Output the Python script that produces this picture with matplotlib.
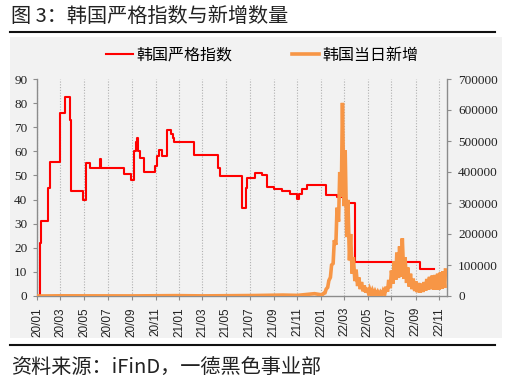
import matplotlib
matplotlib.use('Agg')
import matplotlib.pyplot as plt
import matplotlib.dates as mdates
import matplotlib.ticker as mticker
import pandas as pd
from matplotlib.patches import Rectangle
from matplotlib.lines import Line2D

plt.rcParams['font.family'] = ['Noto Sans CJK SC', 'DejaVu Sans']

title = "图 3：韩国严格指数与新增数量"
source = "资料来源：iFinD，一德黑色事业部"
series_names = ["韩国严格指数", "韩国当日新增"]

# Stringency index (step changes): date -> value
stringency_dates = [
    "2020-01-01", "2020-01-08", "2020-01-10", "2020-01-12", "2020-01-29", "2020-02-03",
    "2020-02-28", "2020-03-14", "2020-03-27", "2020-03-29", "2020-04-28", "2020-05-07",
    "2020-05-17", "2020-06-10", "2020-06-13", "2020-08-11", "2020-08-30", "2020-09-06",
    "2020-09-11", "2020-09-14", "2020-09-18", "2020-09-21", "2020-10-03", "2020-10-31",
    "2020-11-04", "2020-11-10", "2020-11-17", "2020-11-30", "2020-12-11", "2020-12-15",
    "2020-12-19", "2021-02-09", "2021-04-12", "2021-04-16", "2021-06-11", "2021-06-21",
    "2021-06-24", "2021-07-16", "2021-08-01", "2021-08-14", "2021-08-16", "2021-09-02",
    "2021-09-22", "2021-10-13", "2021-10-30", "2021-11-04", "2021-11-12", "2021-11-27",
    "2022-01-14", "2022-02-10", "2022-03-05", "2022-03-29", "2022-05-19", "2022-09-12",
    "2022-10-18",
]
stringency_values = [
    0, 11, 22, 31.2, 45, 55.6,
    76.0, 82.4, 73.0, 43.5, 39.8, 55.1,
    53.2, 57.0, 53.2, 50.5, 48.2, 60.0,
    63.9, 65.7, 60.0, 57.4, 51.4, 54.0,
    57.9, 60.6, 57.9, 69.0, 67.3, 65.7,
    64.0, 58.3, 53.0, 49.9, 36.5, 45.0,
    49.0, 51.0, 50.1, 48.5, 45.3, 44.5,
    43.5, 42.5, 40.4, 42.5, 44.3, 46.0,
    41.8, 41.0, 38.4, 14.2, 13.9, 11.1,
    11.1,
]

# Daily new cases: early (small) readings
cases_early_dates = ["2020-01-01", "2020-03-01", "2020-09-01", "2020-12-25", "2021-03-01",
                     "2021-07-15", "2021-09-25", "2021-11-01", "2021-12-15", "2022-01-01"]
cases_early_values = [0, 600, 300, 1200, 400, 1600, 3000, 2000, 7500, 4000]

# 2022 weekly highs
cases_high_dates = [
    "2022-01-07", "2022-01-14", "2022-01-21", "2022-01-28", "2022-02-04", "2022-02-11",
    "2022-02-18", "2022-02-25", "2022-03-04", "2022-03-11", "2022-03-18", "2022-03-25",
    "2022-04-01", "2022-04-08", "2022-04-15", "2022-04-22", "2022-04-29", "2022-05-06",
    "2022-05-13", "2022-05-20", "2022-05-27", "2022-06-03", "2022-06-10", "2022-06-17",
    "2022-06-24", "2022-07-01", "2022-07-08", "2022-07-15", "2022-07-22", "2022-07-29",
    "2022-08-05", "2022-08-12", "2022-08-19", "2022-08-26", "2022-09-02", "2022-09-09",
    "2022-09-16", "2022-09-23", "2022-09-30", "2022-10-07", "2022-10-14", "2022-10-21",
    "2022-10-28", "2022-11-04", "2022-11-11", "2022-11-17",
]
cases_high_values = [
    8000, 22000, 50000, 100000, 180000, 285000,
    400000, 623000, 470000, 310000, 200000, 125000,
    85000, 60000, 45000, 34000, 26000, 22000,
    18000, 15000, 13000, 12000, 17000, 30000,
    52000, 82000, 112000, 140000, 160000, 186000,
    125000, 92000, 72000, 56000, 47000, 42000,
    40000, 45000, 55000, 62000, 66000, 68000,
    72000, 76000, 80000, 84000,
]
# 2022 weekly lows
cases_low_dates = [
    "2022-01-04", "2022-01-11", "2022-01-18", "2022-01-25", "2022-02-01", "2022-02-08",
    "2022-02-15", "2022-02-22", "2022-03-01", "2022-03-08", "2022-03-15", "2022-03-22",
    "2022-03-29", "2022-04-05", "2022-04-12", "2022-04-19", "2022-04-26", "2022-05-03",
    "2022-05-10", "2022-05-17", "2022-05-24", "2022-05-31", "2022-06-07", "2022-06-14",
    "2022-06-21", "2022-06-28", "2022-07-05", "2022-07-12", "2022-07-19", "2022-07-26",
    "2022-08-02", "2022-08-09", "2022-08-16", "2022-08-23", "2022-08-30", "2022-09-06",
    "2022-09-13", "2022-09-20", "2022-09-27", "2022-10-04", "2022-10-11", "2022-10-18",
    "2022-10-25", "2022-11-01", "2022-11-08", "2022-11-15",
]
cases_low_values = [
    3500, 10000, 28000, 60000, 105000, 165000,
    240000, 320000, 290000, 190000, 115000, 72000,
    48000, 32000, 22000, 15000, 11000, 9000,
    7000, 5000, 4000, 3000, 4000, 8000,
    14000, 25000, 40000, 52000, 58000, 62000,
    55000, 42000, 30000, 22000, 16000, 12000,
    11000, 13000, 17000, 20000, 22000, 20000,
    20000, 21000, 23000, 26000,
]

x_start, x_end = "2020-01-01", "2022-11-21"
left_ticks = list(range(0, 91, 10))
right_ticks = list(range(0, 700001, 100000))

# ---------------------------------------------------------------
W, H = 506, 381
fig = plt.figure(figsize=(W / 100, H / 100), dpi=100)
fig.patch.set_facecolor('white')


def fx(px):
    return px / W


def fy(py):
    return 1 - py / H


fig.add_artist(Rectangle((fx(10), fy(338)), fx(502) - fx(10), fy(37) - fy(338),
                         transform=fig.transFigure, facecolor='#f2f2f2',
                         edgecolor='none', zorder=-5))
fig.add_artist(Line2D([fx(10), fx(495)], [fy(31.5)] * 2, color='#111111', lw=1.5))
fig.add_artist(Line2D([fx(10), fx(495)], [fy(344.5)] * 2, color='#111111', lw=1.5))
fig.text(fx(11), fy(16), title, fontsize=14.5, ha='left', va='center', color='#222222')
fig.text(fx(11), fy(368), source, fontsize=14.5, ha='left', va='center', color='#222222')

ax = fig.add_axes([fx(37), fy(296), fx(447) - fx(37), fy(79) - fy(296)])
ax.set_facecolor('none')
ax2 = ax.twinx()
ax2.set_facecolor('none')

s = pd.Series(stringency_values, index=pd.to_datetime(stringency_dates))
ax.plot(s.index, s.values, drawstyle='steps-post', color='#ff0000', lw=1.5, zorder=3)

cases = pd.concat([
    pd.Series(cases_early_values, index=pd.to_datetime(cases_early_dates)),
    pd.Series(cases_high_values, index=pd.to_datetime(cases_high_dates)),
    pd.Series(cases_low_values, index=pd.to_datetime(cases_low_dates)),
]).sort_index()
ax2.plot(cases.index, cases.values, color='#f79646', lw=2.6, zorder=3,
         solid_joinstyle='miter')

ax.set_xlim(pd.Timestamp(x_start), pd.Timestamp(x_end))
ax.set_ylim(0, 90)
ax2.set_ylim(0, 700000)
ax.set_yticks(left_ticks)
ax2.set_yticks(right_ticks)
ax2.yaxis.set_major_formatter(mticker.FuncFormatter(lambda v, p: f"{int(v)}"))

ax.xaxis.set_major_locator(mdates.MonthLocator(bymonth=[1, 3, 5, 7, 9, 11]))
ax.xaxis.set_major_formatter(mdates.DateFormatter('%y/%m'))

ax.grid(axis='x', color='#b0b0b0', linestyle=(0, (1, 1.5)), lw=0.8, zorder=0)
ax.set_axisbelow(True)

spine_c = '#8c8c8c'
for a in (ax, ax2):
    a.spines['top'].set_visible(False)
    for sp in ('left', 'right', 'bottom'):
        a.spines[sp].set_color(spine_c)
        a.spines[sp].set_linewidth(1.0)
ax.spines['right'].set_visible(False)
ax2.spines['left'].set_visible(False)
ax2.spines['bottom'].set_visible(False)

ax.tick_params(axis='y', direction='out', length=3, width=0.8, color=spine_c,
               labelsize=9.5, pad=4, labelcolor='#222222', labelfontfamily='Liberation Serif')
ax2.tick_params(axis='y', direction='out', length=3, width=0.8, color=spine_c,
                labelsize=9.5, pad=5, labelcolor='#222222', labelfontfamily='Liberation Serif')
ax.tick_params(axis='x', direction='out', length=3, width=0.8, color=spine_c,
               labelsize=8.5, pad=5, labelrotation=90, labelcolor='#222222',
               labelfontfamily='Liberation Sans')

handles = [Line2D([], [], color='#ff0000', lw=1.5), Line2D([], [], color='#f79646', lw=2.6)]
fig.legend(handles, series_names, loc='center', bbox_to_anchor=(fx(262), fy(55)),
           ncol=2, frameon=False, fontsize=11.5, handlelength=1.7, handletextpad=0.2,
           columnspacing=3.7, borderpad=0, borderaxespad=0)

fig.savefig('out.png', dpi=100, facecolor='white')
